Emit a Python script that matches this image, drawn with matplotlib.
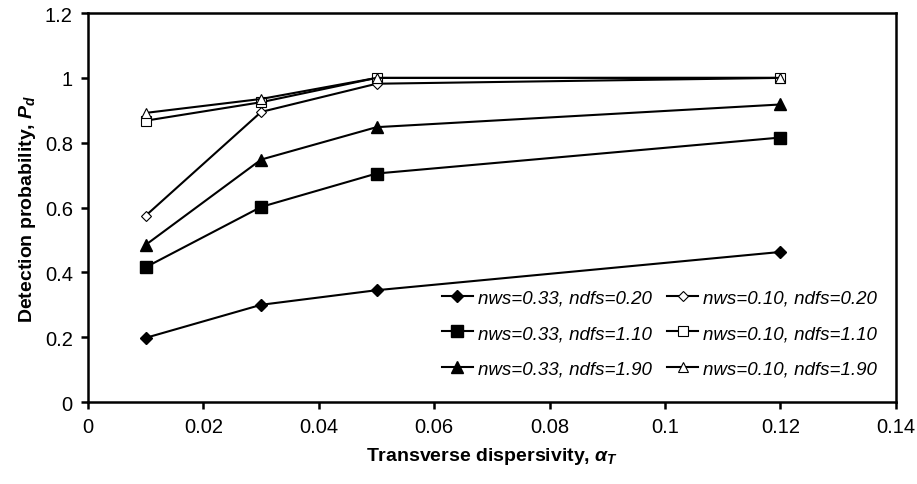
import matplotlib
matplotlib.use("Agg")
import matplotlib.pyplot as plt

plt.rcParams['font.family'] = ['Liberation Sans', 'DejaVu Sans']
plt.rcParams['mathtext.fontset'] = 'custom'
plt.rcParams['mathtext.rm'] = 'Liberation Sans:bold'
plt.rcParams['mathtext.it'] = 'Liberation Sans:bold:italic'
plt.rcParams['mathtext.bf'] = 'Liberation Sans:bold'

# transverse dispersivity values
alpha_t = [0.01, 0.03, 0.05, 0.12]

# detection probability for each case
pd_033_020 = [0.198, 0.300, 0.345, 0.463]
pd_010_020 = [0.575, 0.895, 0.982, 1.000]
pd_033_110 = [0.416, 0.602, 0.705, 0.816]
pd_010_110 = [0.868, 0.925, 1.000, 1.000]
pd_033_190 = [0.485, 0.748, 0.848, 0.918]
pd_010_190 = [0.892, 0.935, 1.000, 1.000]

labels = ["nws=0.33, ndfs=0.20", "nws=0.10, ndfs=0.20",
          "nws=0.33, ndfs=1.10", "nws=0.10, ndfs=1.10",
          "nws=0.33, ndfs=1.90", "nws=0.10, ndfs=1.90"]

fig = plt.figure(figsize=(9.17, 4.85), dpi=100)
ax = fig.add_axes([0.096, 0.169, 0.881, 0.802])

lw = 1.5
h = []
h += ax.plot(alpha_t, pd_033_020, color='black', lw=lw, marker='D', ms=6.5,
             mfc='black', mec='black', label=labels[0])
h += ax.plot(alpha_t, pd_010_020, color='black', lw=lw, marker='D', ms=5,
             mfc='white', mec='black', mew=0.8, label=labels[1])
h += ax.plot(alpha_t, pd_033_110, color='black', lw=lw, marker='s', ms=8,
             mfc='black', mec='black', label=labels[2])
h += ax.plot(alpha_t, pd_010_110, color='black', lw=lw, marker='s', ms=7,
             mfc='white', mec='black', mew=0.8, label=labels[3])
h += ax.plot(alpha_t, pd_033_190, color='black', lw=lw, marker='^', ms=8.5,
             mfc='black', mec='black', label=labels[4])
h += ax.plot(alpha_t, pd_010_190, color='black', lw=lw, marker='^', ms=7,
             mfc='white', mec='black', mew=0.8, label=labels[5])

ax.set_xlim(0, 0.14)
ax.set_ylim(0, 1.2)
ax.set_xticks([0, 0.02, 0.04, 0.06, 0.08, 0.1, 0.12, 0.14])
ax.set_xticklabels(['0', '0.02', '0.04', '0.06', '0.08', '0.1', '0.12', '0.14'])
ax.set_yticks([0, 0.2, 0.4, 0.6, 0.8, 1.0, 1.2])
ax.set_yticklabels(['0', '0.2', '0.4', '0.6', '0.8', '1', '1.2'])

for s in ax.spines.values():
    s.set_linewidth(1.8)
ax.tick_params(direction='out', length=5, width=1.8, labelsize=14.5,
               top=False, right=False, pad=6)

ax.set_xlabel(r"Transverse dispersivity, $\alpha_{T}$", fontsize=14,
              fontweight='bold', labelpad=6)
ax.set_ylabel(r"Detection probability, $P_{d}$", fontsize=14,
              fontweight='bold', labelpad=5)

# legend filled row by row: left column nws=0.33, right column nws=0.10
order = [0, 2, 4, 1, 3, 5]
leg = ax.legend([h[i] for i in order], [labels[i] for i in order],
                ncol=2, loc='upper left',
                bbox_to_anchor=(442 / 917, 1 - 290 / 485),
                bbox_transform=fig.transFigure,
                frameon=False, borderpad=0, borderaxespad=0,
                handlelength=1.65, handletextpad=0.25,
                columnspacing=0.85, labelspacing=1.0,
                prop={'style': 'italic', 'size': 13.5})

fig.savefig("out.png", dpi=100)
